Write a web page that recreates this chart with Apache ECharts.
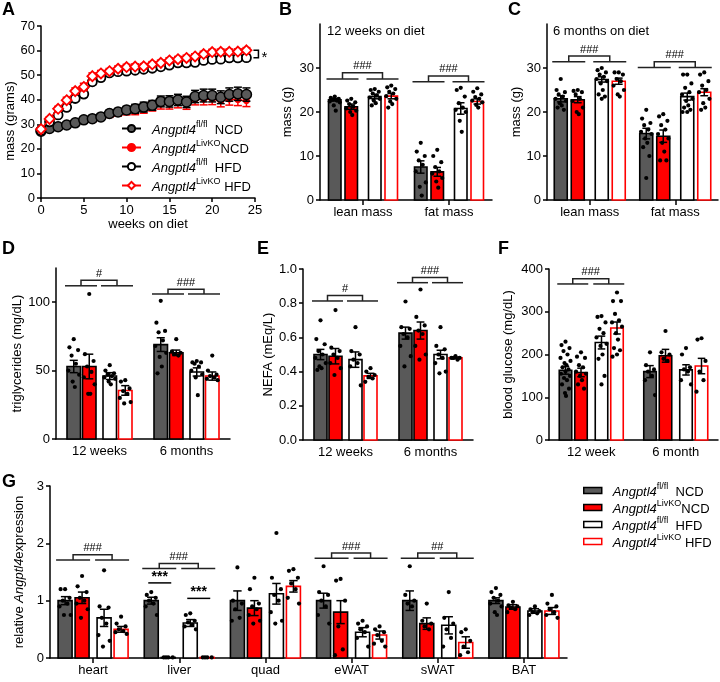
<!DOCTYPE html>
<html><head><meta charset="utf-8">
<script src="https://cdn.jsdelivr.net/npm/echarts@6/dist/echarts.min.js"></script>
<style>html,body{margin:0;padding:0;background:#fff}#c{width:720px;height:682px}</style>
</head><body><div id="c"></div>
<script>
// ---------------- DATA ----------------
// Panel A: body mass over time
const weeks = [0,1,2,3,4,5,6,7,8,9,10,11,12,13,14,15,16,17,18,19,20,21,22,23,24];
const massFlNCD = [27.2,28.3,29,29.7,30.6,31.8,32.3,33,34.4,35,35.8,36.3,37,37.7,39.3,39.3,39.9,39.1,41.3,41.7,41.7,41,42.1,42.4,42.1];
const semFlNCD  = [0.8,0.8,0.8,0.9,0.9,1,1,1.1,1.3,1.4,1.5,1.8,2,2,2.2,2.3,2.3,2.3,2.5,2.6,2.6,2.6,2.7,2.7,2.7];
const massKoNCD = [27.1,28.1,28.8,29.5,30.4,31.6,32,32.7,34,34.6,35.2,35.5,36.3,37.3,38.2,38.3,38.8,38.3,40.1,40.2,40.3,39.5,40.2,40,39.6];
const semKoNCD  = [0.7,0.7,0.8,0.8,0.9,0.9,1,1,1.2,1.3,1.4,1.6,1.8,1.9,2,2.1,2.1,2.2,2.2,2.3,2.3,2.4,2.4,2.4,2.4];
const massFlHFD = [27.5,31,33.8,36.9,40.5,42.3,47.3,49,50.9,51.4,51.6,52,52.4,52.8,53.4,54.1,55,55,55.2,56,56.4,56.5,57,57,57.1];
const semFlHFD  = [0.5,0.7,0.9,1,1,1.1,1.2,1.2,1.1,1.1,1.1,1.1,1.1,1.1,1.1,1.2,1.2,1.2,1.2,1.2,1.2,1.2,1.2,1.2,1.2];
const massKoHFD = [28,32.2,36.3,39.8,43.5,45.2,49.6,50.7,51.6,52.6,53.3,53.5,53.6,54.4,55,56,56.5,57,57.6,58.6,59.4,59.5,59.5,59.6,60.1];
const semKoHFD  = [0.5,0.8,1,1.2,1.3,1.5,1.3,1.2,1.1,1.1,1.1,1.1,1.1,1.1,1.1,1.1,1.1,1.1,1.1,1.1,1.1,1.1,1.1,1.1,1.1];
const A_sigPair = [24, 60.1, 57.1];

// group order in every bar panel: Angptl4 fl/fl NCD, LivKO NCD, fl/fl HFD, LivKO HFD
const groupLabels = [
  '{i|Angptl4}{s|fl/fl}{n|  NCD}',
  '{i|Angptl4}{s|LivKO}{n|NCD}',
  '{i|Angptl4}{s|fl/fl}{n|  HFD}',
  '{i|Angptl4}{s|LivKO}{n| HFD}'
];

// Panel B: 12 weeks on diet
const B_cats = ['lean mass','fat mass'];
const B_means = [[22.8,7.5],[21.2,6.4],[23.5,20.8],[23.6,22.4]];
const B_sems  = [[0.3,1.4],[0.6,1.0],[0.5,1.3],[0.6,0.6]];
const B_dots = [
  [[23.5,23.2,23,22.8,22.6,22.4,22.2,21.5,20.3],[13,11,10,9,8,6.5,4,3,1]],
  [[23,22.6,22.2,21.8,21.2,20.8,20.3,20,19.3],[11.4,10,8.6,7.5,6.5,6,5,4.2,2.8]],
  [[25.2,25,24.6,24.2,23.8,23.3,23,22.6,22,21.5],[25.5,25,23.5,22,21,20.5,20,18,15.5]],
  [[26,25.6,25.2,24.6,24.2,23.6,23,22.4,21.8,21],[25.4,24.6,24,23.4,23,22.6,22.2,21.6,21]]
];
const B_brackets = [[0,27.5,28.9],[1,26.9,28.2]];
const B_bracketText = ['###','###'];

// Panel C: 6 months on diet
const C_cats = ['lean mass','fat mass'];
const C_means = [[23.0,15.1],[22.8,14.5],[27.4,23.5],[27.0,24.5]];
const C_sems  = [[0.7,1.2],[0.7,1.4],[0.6,0.8],[0.7,0.8]];
const C_dots = [
  [[27.5,25,24.5,24,23.5,23,22.5,22,21.5,21,20.5],[20.5,18.5,17.5,17,16,15.5,15,14,13,12,10,5]],
  [[25,24.8,24.5,24,23,22.5,21,20,19.5],[19.5,19,18,17,16,15,14,13,11,9,9]],
  [[30,29.5,29,28.5,28,27.5,27,26.5,25,24,23.5,23],[28.5,28.5,26.5,25.5,24.5,24,23,22.5,21.5,21,20.5,20,20]],
  [[29,29,28.5,27.5,27,26,25,24,23.5],[29,28.5,27,26,25,24.5,23,22,21,20.5]]
];
const C_brackets = [[0,31.4,32.7],[1,30.1,31.4]];
const C_bracketText = ['###','###'];

// Panel D: triglycerides
const D_cats = ['12 weeks','6 months'];
const D_means = [[53,69],[53,63],[46,49],[35.5,46]];
const D_sems  = [[4.5,5],[9,2],[2.5,3],[3.5,3]];
const D_dots = [
  [[73,67,65,61,55,50,47,42,38],[101,85,79,78,72,68,63,60,53,48]],
  [[106,62,57,53,49,45,40,33,33],[73,64,63,62,61]],
  [[54,50,48,47,46,45,44,42,40],[57,56,56,55,53,50,47,45,32]],
  [[43,42,37,35,33,30,27,26],[61,50,47,46,45,44,43]]
];
const D_brackets = [[0,112,116],[1,106,109.5]];
const D_bracketText = ['#','###'];

// Panel E: NEFA
const E_cats = ['12 weeks','6 months'];
const E_means = [[0.50,0.625],[0.49,0.64],[0.47,0.50],[0.375,0.48]];
const E_sems  = [[0.03,0.035],[0.045,0.05],[0.045,0.025],[0.015,0.005]];
const E_dots = [
  [[0.70,0.59,0.56,0.52,0.50,0.48,0.45,0.43,0.42,0.41],[0.81,0.66,0.65,0.62,0.60,0.55,0.49,0.43]],
  [[0.76,0.54,0.52,0.50,0.48,0.45,0.42,0.38],[0.88,0.72,0.67,0.64,0.62,0.55,0.50,0.47]],
  [[0.66,0.52,0.50,0.47,0.45,0.43,0.32],[0.66,0.55,0.53,0.50,0.48,0.45,0.40,0.39]],
  [[0.42,0.40,0.38,0.37,0.36,0.34],[0.49,0.48,0.48,0.48,0.47]]
];
const E_brackets = [[0,0.813,0.845],[1,0.92,0.95]];
const E_bracketText = ['#','###'];

// Panel F: blood glucose
const F_cats = ['12 week','6 month'];
const F_means = [[163,160],[158,197],[228,164],[262,173]];
const F_sems  = [[9,14],[10,15],[15,12],[14,18]];
const F_dots = [
  [[230,222,215,208,200,192,185,180,175,170,165,160,155,150,145,140,130,120,110,103],[205,175,165,160,150,140,105]],
  [[205,195,192,175,170,160,155,150,140,130,120],[255,205,200,190,185]],
  [[290,288,275,260,250,240,225,220,200,190,150,130],[215,200,170,165,160,140,130]],
  [[345,325,325,295,280,275,265,250,235,215,210,200,195],[238,235,185,160,140,113]]
];
const F_brackets = [[0,365,377]];
const F_bracketText = ['###'];

// Panel G: relative Angptl4 expression
const G_cats = ['heart','liver','quad','eWAT','sWAT','BAT'];
const G_means = [
  [1,1,1,1,1,1],
  [1.05,0.01,0.87,0.80,0.60,0.89],
  [0.70,0.61,1.12,0.45,0.57,0.82],
  [0.50,0.01,1.25,0.40,0.27,0.82]
];
const G_sems = [
  [0.07,0.06,0.17,0.13,0.17,0.05],
  [0.10,0,0.13,0.2,0.1,0.04],
  [0.15,0.06,0.18,0.08,0.15,0.04],
  [0.05,0,0.1,0.07,0.1,0.06]
];
const G_dots = [
  [[1.2,1.2,1.05,1.0,0.95,0.9,0.75,0.75],[1.15,1.1,1.05,1.0,0.95,0.9,0.75],[1.58,1.0,0.95,0.85,0.7,0.65],[1.6,1.15,1.1,1.0,0.9,0.75,0.6],[1.6,1.1,1.0,0.95,0.9],[1.22,1.15,1.1,1.05,1.0,0.95,0.9,0.8,0.75]],
  [[1.43,1.25,1.15,1.05,1.0,0.95,0.85,0.7],[0.01,0.01,0.01,0.01],[1.4,1.2,0.95,0.9,0.85,0.75,0.65,0.6],[1.38,1.35,1.0,0.55,0.15,0.05],[0.95,0.65,0.6,0.55,0.5],[0.98,0.92,0.9,0.88,0.85,0.8]],
  [[1.53,0.9,0.88,0.7,0.6,0.4,0.3,0.2],[0.78,0.75,0.65,0.62,0.58,0.55,0.5],[2.18,1.4,1.2,1.1,1.0,0.8,0.65,0.6],[0.65,0.6,0.55,0.5,0.45,0.35,0.2],[1.15,0.7,0.6,0.5,0.35,0.2],[0.9,0.85,0.82,0.8,0.78,0.75]],
  [[0.72,0.6,0.55,0.5,0.47,0.45,0.42],[0.01,0.01,0.01,0.01],[1.55,1.52,1.4,1.3,1.2,1.05,0.95],[0.55,0.5,0.45,0.4,0.3,0.25,0.2],[0.5,0.45,0.3,0.2,0.1,0.05],[1.1,0.95,0.9,0.85,0.8,0.75,0.7]]
];
const G_brackets = [[0,1.71,1.80],[1,1.56,1.65],[3,1.74,1.83],[4,1.74,1.83]];
const G_bracketText = ['###','###','###','##'];
const G_stars = [[1,0,1.31],[1,1,1.04]]; // [category, pair, y]

// ---------------- STYLE ----------------
const FONT = 'Arial, "Liberation Sans", Helvetica, sans-serif';
const GRAY = '#595959', RED = '#ff0000';
const STY = [
  {fill:GRAY, stroke:'#000'},
  {fill:RED, stroke:'#000'},
  {fill:'#fff', stroke:'#000'},
  {fill:'#fff', stroke:RED}
];
const JIT = [0,-0.32,0.32,-0.16,0.16,-0.4,0.4,-0.08,0.08,-0.24,0.24,0,-0.36,0.36,-0.12,0.12,-0.28,0.28,-0.04,0.04];
const LEG_RICH = {
  i:{fontSize:13, fontStyle:'italic', fontFamily:FONT, color:'#000', lineHeight:17, verticalAlign:'bottom', padding:[0,0,0,6]},
  s:{fontSize:9, fontFamily:FONT, color:'#000', verticalAlign:'top'},
  n:{fontSize:13, fontFamily:FONT, color:'#000', lineHeight:17, verticalAlign:'bottom'}
};

const series = [];
const axisLineStyle = {show:true, onZero:false, lineStyle:{color:'#000', width:1.5}};
const tickStyle = {color:'#000', width:1.5};
function mkY(gi, max, interval, name, gap, extra){
  return Object.assign({
    type:'value', gridIndex:gi, min:0, max:max, interval:interval,
    name:name, nameLocation:'middle', nameGap:gap,
    nameTextStyle:{fontSize:13, color:'#000', fontFamily:FONT},
    axisLine:axisLineStyle, axisTick:{show:true, length:4, lineStyle:tickStyle},
    axisLabel:{fontSize:13, color:'#000', fontFamily:FONT, margin:6},
    splitLine:{show:false}
  }, extra || {});
}
function mkCatX(gi, cats, ticks){
  return {type:'category', gridIndex:gi, data:cats, boundaryGap:true,
    axisLine:axisLineStyle,
    axisTick:{show:ticks, alignWithLabel:true, length:5, lineStyle:tickStyle},
    axisLabel:{fontSize:13, color:'#000', fontFamily:FONT, margin:6, interval:0},
    splitLine:{show:false}};
}
function offsets(L){
  const t = 4*L.bw + 2*L.g1 + L.g2, l = -t/2;
  return [l+L.bw/2, l+1.5*L.bw+L.g1, l+2.5*L.bw+L.g1+L.g2, l+3.5*L.bw+2*L.g1+L.g2];
}
function barPanel(gi, pre, cats, means, sems, dots, L, brackets, btext, stars){
  const off = offsets(L);
  for (let s = 0; s < 4; s++){
    series.push({type:'custom', name:pre+(s+1), xAxisIndex:gi, yAxisIndex:gi, z:2,
      data: cats.map((c,ci)=>[ci, means[s][ci]]), encode:{x:0, y:1},
      renderItem:(p, api)=>{
        const top = api.coord([api.value(0), api.value(1)]);
        const base = api.coord([api.value(0), 0]);
        return {type:'rect', shape:{x:top[0]+off[s]-L.bw/2, y:top[1], width:L.bw, height:base[1]-top[1]},
          style:{fill:STY[s].fill, stroke:STY[s].stroke, lineWidth:1.6}};
      }});
  }
  const eb = [];
  for (let s = 0; s < 4; s++) cats.forEach((c,ci)=>eb.push([ci, means[s][ci], sems[s][ci], s]));
  series.push({type:'custom', xAxisIndex:gi, yAxisIndex:gi, z:3, data:eb, encode:{x:0, y:1},
    renderItem:(p, api)=>{
      const ci = api.value(0), m = api.value(1), e = api.value(2), s = api.value(3);
      if (e <= 0) return {type:'group', children:[]};
      const hi = api.coord([ci, m+e]), lo = api.coord([ci, m-e]);
      const x = hi[0] + off[s], cw = L.bw*0.3;
      const st = {stroke:'#000', lineWidth:1.5};
      return {type:'group', children:[
        {type:'line', shape:{x1:x, y1:hi[1], x2:x, y2:lo[1]}, style:st},
        {type:'line', shape:{x1:x-cw, y1:hi[1], x2:x+cw, y2:hi[1]}, style:st},
        {type:'line', shape:{x1:x-cw, y1:lo[1], x2:x+cw, y2:lo[1]}, style:st}
      ]};
    }});
  const dd = [];
  for (let s = 0; s < 4; s++) cats.forEach((c,ci)=>dots[s][ci].forEach((v,k)=>dd.push([ci, v, s, k])));
  series.push({type:'custom', xAxisIndex:gi, yAxisIndex:gi, z:4, data:dd, encode:{x:0, y:1},
    renderItem:(p, api)=>{
      const pt = api.coord([api.value(0), api.value(1)]);
      const s = api.value(2), k = api.value(3);
      return {type:'circle', shape:{cx:pt[0]+off[s]+JIT[k % JIT.length]*L.bw, cy:pt[1], r:2.1}, style:{fill:'#000'}};
    }});
  series.push({type:'custom', xAxisIndex:gi, yAxisIndex:gi, z:3, data:brackets, encode:{x:0, y:1},
    renderItem:(p, api)=>{
      const ci = api.value(0);
      const c = api.coord([ci, api.value(1)]), t = api.coord([ci, api.value(2)]);
      const x0 = c[0]+off[0]-L.bw/2-2, x1 = c[0]+off[1]+L.bw/2+1;
      const x2 = c[0]+off[2]-L.bw/2-2, x3 = c[0]+off[3]+L.bw/2+1;
      const m1 = (x0+x1)/2, m2 = (x2+x3)/2;
      const st = {stroke:'#222', lineWidth:1.5, fill:null};
      return {type:'group', children:[
        {type:'line', shape:{x1:x0, y1:c[1], x2:x1, y2:c[1]}, style:st},
        {type:'line', shape:{x1:x2, y1:c[1], x2:x3, y2:c[1]}, style:st},
        {type:'polyline', shape:{points:[[m1,c[1]],[m1,t[1]],[m2,t[1]],[m2,c[1]]]}, style:st},
        {type:'text', style:{text:btext[p.dataIndex], x:(m1+m2)/2, y:t[1]-1, align:'center', verticalAlign:'bottom', fontSize:11, fontFamily:FONT, fill:'#000'}}
      ]};
    }});
  if (stars){
    series.push({type:'custom', xAxisIndex:gi, yAxisIndex:gi, z:3, data:stars, encode:{x:0, y:2},
      renderItem:(p, api)=>{
        const ci = api.value(0), pr = api.value(1);
        const c = api.coord([ci, api.value(2)]);
        const xa = c[0]+off[pr*2]-3, xb = c[0]+off[pr*2+1]+3;
        return {type:'group', children:[
          {type:'line', shape:{x1:xa, y1:c[1], x2:xb, y2:c[1]}, style:{stroke:'#000', lineWidth:1.5}},
          {type:'text', style:{text:'***', x:(xa+xb)/2, y:c[1]+1, align:'center', verticalAlign:'bottom', fontSize:14, fontWeight:'bold', fontFamily:FONT, fill:'#000'}}
        ]};
      }});
  }
}

// ---------------- PANEL A ----------------
const A_defs = [
  {name:'A2', y:massKoNCD, e:semKoNCD, sym:'circle', size:6, fill:RED, stroke:RED, bw:1, line:RED, z:3},
  {name:'A1', y:massFlNCD, e:semFlNCD, sym:'circle', size:10, fill:GRAY, stroke:'#000', bw:1.5, line:'#000', z:5},
  {name:'A3', y:massFlHFD, e:semFlHFD, sym:'circle', size:9, fill:'#fff', stroke:'#000', bw:1.8, line:'#000', z:7},
  {name:'A4', y:massKoHFD, e:semKoHFD, sym:'diamond', size:10, fill:'#fff', stroke:RED, bw:1.8, line:RED, z:9}
];
A_defs.forEach(d=>{
  series.push({type:'custom', xAxisIndex:0, yAxisIndex:0, z:d.z-1,
    data: weeks.map((w,i)=>[w, d.y[i], d.e[i]]), encode:{x:0, y:1},
    renderItem:(p, api)=>{
      const w = api.value(0), m = api.value(1), e = api.value(2);
      const hi = api.coord([w, m+e]), lo = api.coord([w, m-e]);
      const st = {stroke:d.line, lineWidth:1.5};
      return {type:'group', children:[
        {type:'line', shape:{x1:hi[0], y1:hi[1], x2:lo[0], y2:lo[1]}, style:st},
        {type:'line', shape:{x1:hi[0]-4, y1:hi[1], x2:hi[0]+4, y2:hi[1]}, style:st},
        {type:'line', shape:{x1:lo[0]-4, y1:lo[1], x2:lo[0]+4, y2:lo[1]}, style:st}
      ]};
    }});
  series.push({type:'line', name:d.name, xAxisIndex:0, yAxisIndex:0, z:d.z, clip:false,
    data: weeks.map((w,i)=>[w, d.y[i]]), symbol:d.sym, symbolSize:d.size, showSymbol:true,
    itemStyle:{color:d.fill, borderColor:d.stroke, borderWidth:d.bw},
    lineStyle:{color:d.line, width:1.5}});
});
series.push({type:'custom', xAxisIndex:0, yAxisIndex:0, z:10, data:[A_sigPair], encode:{x:0, y:1},
  renderItem:(p, api)=>{
    const a = api.coord([api.value(0), api.value(1)]), b = api.coord([api.value(0), api.value(2)]);
    const x = a[0] + 7;
    return {type:'group', children:[
      {type:'polyline', shape:{points:[[x,a[1]],[x+5,a[1]],[x+5,b[1]],[x,b[1]]]}, style:{stroke:'#000', lineWidth:1.5, fill:null}},
      {type:'text', style:{text:'*', x:x+8, y:(a[1]+b[1])/2+4, align:'left', verticalAlign:'middle', fontSize:15, fontFamily:FONT, fill:'#000'}}
    ]};
  }});

// ---------------- BAR PANELS ----------------
barPanel(1, 'B', B_cats, B_means, B_sems, B_dots, {bw:12.5, g1:4, g2:11}, B_brackets, B_bracketText);
barPanel(2, 'C', C_cats, C_means, C_sems, C_dots, {bw:13, g1:4, g2:11}, C_brackets, C_bracketText);
barPanel(3, 'D', D_cats, D_means, D_sems, D_dots, {bw:13.5, g1:2, g2:7}, D_brackets, D_bracketText);
barPanel(4, 'E', E_cats, E_means, E_sems, E_dots, {bw:13, g1:2, g2:7}, E_brackets, E_bracketText);
barPanel(5, 'F', F_cats, F_means, F_sems, F_dots, {bw:12.5, g1:3, g2:8}, F_brackets, F_bracketText);
barPanel(6, 'G', G_cats, G_means, G_sems, G_dots, {bw:14, g1:3, g2:8}, G_brackets, G_bracketText, G_stars);

const noBounds = {containLabel:false, outerBoundsMode:'none'};
const option = {
  animation:false,
  backgroundColor:'#fff',
  textStyle:{fontFamily:FONT},
  title: [
    ['A',2,1],['B',279,1],['C',508,1],['D',2,240],['E',257,240],['F',498,240],['G',2,473]
  ].map(t=>({text:t[0], left:t[1], top:t[2], padding:0, textStyle:{fontSize:18, fontWeight:'bold', color:'#000', fontFamily:FONT}}))
   .concat([
     {text:'12 weeks on diet', left:327, top:25, padding:0, textStyle:{fontSize:13, fontWeight:'normal', color:'#000', fontFamily:FONT}},
     {text:'6 months on diet', left:553, top:25, padding:0, textStyle:{fontSize:13, fontWeight:'normal', color:'#000', fontFamily:FONT}}
   ]),
  grid: [
    Object.assign({left:41, top:26, width:214, height:172}, noBounds),
    Object.assign({left:320, top:24, width:172, height:176}, noBounds),
    Object.assign({left:547, top:24, width:171, height:176}, noBounds),
    Object.assign({left:56, top:268, width:174, height:171}, noBounds),
    Object.assign({left:303, top:269, width:170, height:171}, noBounds),
    Object.assign({left:549, top:269, width:169, height:171}, noBounds),
    Object.assign({left:50, top:486, width:517, height:172}, noBounds)
  ],
  xAxis: [
    {type:'value', gridIndex:0, min:0, max:25, interval:5, name:'weeks on diet', nameLocation:'middle', nameGap:14,
      nameTextStyle:{fontSize:13, color:'#000', fontFamily:FONT},
      axisLine:axisLineStyle, axisTick:{show:true, length:4, lineStyle:tickStyle},
      axisLabel:{fontSize:13, color:'#000', fontFamily:FONT, margin:6}, splitLine:{show:false}},
    mkCatX(1, B_cats, true), mkCatX(2, C_cats, true),
    mkCatX(3, D_cats, false), mkCatX(4, E_cats, false), mkCatX(5, F_cats, false),
    mkCatX(6, G_cats, true)
  ],
  yAxis: [
    mkY(0, 70, 10, 'mass (grams)', 24, {nameTextStyle:{fontSize:13, color:'#000', fontFamily:FONT, padding:[0,18,0,0]}}),
    mkY(1, 40, 10, 'mass (g)', 26, {axisLabel:{fontSize:13, color:'#000', fontFamily:FONT, margin:6, customValues:[0,10,20,30]}, axisTick:{show:true, length:4, lineStyle:tickStyle, customValues:[0,10,20,30]}}),
    mkY(2, 40, 10, 'mass (g)', 24, {axisLabel:{fontSize:13, color:'#000', fontFamily:FONT, margin:6, customValues:[0,10,20,30]}, axisTick:{show:true, length:4, lineStyle:tickStyle, customValues:[0,10,20,30]}}),
    mkY(3, 125, 25, 'triglycerides (mg/dL)', 32, {axisLabel:{fontSize:13, color:'#000', fontFamily:FONT, margin:6, customValues:[0,50,100]}, axisTick:{show:true, length:4, lineStyle:tickStyle, customValues:[0,50,100]}}),
    mkY(4, 1, 0.2, 'NEFA (mEq/L)', 28, {axisLabel:{fontSize:13, color:'#000', fontFamily:FONT, margin:6, formatter:v=>v.toFixed(1)}}),
    mkY(5, 400, 100, 'blood glucose (mg/dL)', 34),
    mkY(6, 3, 1, '{n|relative }{i|Angptl4}{n|expression}', 12, {nameTextStyle:{fontSize:13, color:'#000', fontFamily:FONT,
       rich:{n:{fontSize:13, color:'#000', fontFamily:FONT}, i:{fontSize:13, fontStyle:'italic', color:'#000', fontFamily:FONT}}}})
  ],
  legend: [
    {data:['A1','A2','A3','A4'], orient:'vertical', left:116, top:115, itemWidth:19, itemHeight:9, itemGap:2,
      selectedMode:false, formatter:n=>groupLabels[+n.slice(1)-1], textStyle:{rich:LEG_RICH}},
    {data:[1,2,3,4].map(k=>({name:'G'+k, icon:'rect', itemStyle:{color:STY[k-1].fill, borderColor:STY[k-1].stroke, borderWidth:1.5}})),
      orient:'vertical', left:578, top:477, itemWidth:18, itemHeight:6, itemGap:0,
      selectedMode:false, formatter:n=>groupLabels[+n.slice(1)-1], textStyle:{rich:LEG_RICH}}
  ],
  series: series
};
const chart = echarts.init(document.getElementById('c'), null, {renderer:'canvas', width:720, height:682});
chart.setOption(option);
</script></body></html>
